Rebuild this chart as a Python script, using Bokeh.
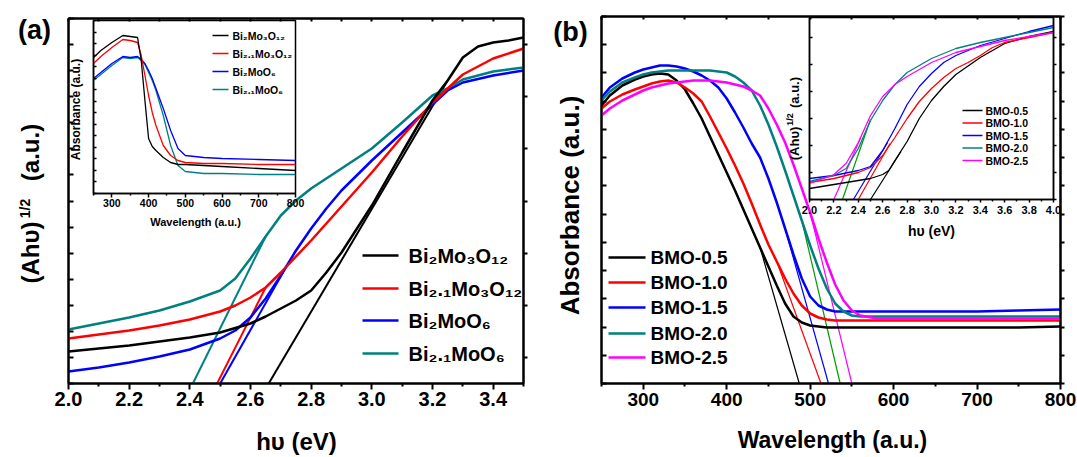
import numpy as np
from bokeh.plotting import figure
from bokeh.models import (Range1d, FixedTicker, LinearAxis, Label, GridBox,
                          PrintfTickFormatter, CustomJSTickFormatter)
from bokeh.embed import file_html
from bokeh.resources import INLINE

# ---------------- DATA ----------------
# Panel (a): Tauc plot, (Ahv)^1/2 in a.u.
hv_a_black = [2.0, 2.1, 2.2, 2.3, 2.4, 2.5, 2.6, 2.65, 2.7, 2.75, 2.8, 2.85, 2.9, 3.0, 3.1, 3.2, 3.25, 3.3, 3.35, 3.4, 3.45, 3.5]
tauc_a_black = [3.2, 3.5, 3.8, 4.2, 4.6, 5.1, 6.0, 6.7, 7.5, 8.3, 9.3, 11.1, 13.1, 17.8, 23.1, 28.3, 30.3, 32.6, 33.7, 34.1, 34.3, 34.6]
hv_a_red = [2.0, 2.1, 2.2, 2.3, 2.4, 2.5, 2.55, 2.6, 2.65, 2.7, 2.8, 2.9, 3.0, 3.1, 3.2, 3.3, 3.4, 3.5]
tauc_a_red = [4.5, 4.9, 5.3, 5.8, 6.4, 7.2, 7.8, 8.6, 9.6, 11.1, 14.3, 17.7, 21.1, 24.7, 28.1, 30.9, 32.5, 33.5]
hv_a_blue = [2.0, 2.1, 2.2, 2.3, 2.4, 2.5, 2.55, 2.6, 2.65, 2.7, 2.75, 2.8, 2.85, 2.9, 3.0, 3.1, 3.2, 3.25, 3.3, 3.4, 3.5]
tauc_a_blue = [1.2, 1.6, 2.1, 2.7, 3.4, 4.5, 5.3, 6.6, 8.5, 10.8, 13.3, 15.5, 17.5, 19.3, 22.3, 25.1, 27.9, 29.3, 30.1, 30.8, 31.3]
hv_a_teal = [2.0, 2.1, 2.2, 2.3, 2.4, 2.5, 2.55, 2.6, 2.65, 2.7, 2.75, 2.8, 2.9, 3.0, 3.1, 3.2, 3.25, 3.3, 3.4, 3.5]
tauc_a_teal = [5.4, 6.0, 6.6, 7.3, 8.2, 9.3, 10.5, 12.5, 14.7, 16.8, 18.3, 19.5, 21.5, 23.5, 26.1, 28.8, 29.5, 30.4, 31.2, 31.6]
# linear fits (x-intercept = band gap, upper end on the curve)
fit_a_black_x, fit_a_black_y = [2.66, 3.25], [0.0, 30.3]
fit_a_red_x, fit_a_red_y = [2.49, 2.65], [0.0, 9.6]
fit_a_blue_x, fit_a_blue_y = [2.50, 2.72], [0.0, 11.8]
fit_a_teal_x, fit_a_teal_y = [2.41, 2.65], [0.0, 14.7]
names_a = ["Bi\u2082Mo\u2083O\u2081\u2082", "Bi\u2082.\u2081Mo\u2083O\u2081\u2082",
           "Bi\u2082MoO\u2086", "Bi\u2082.\u2081MoO\u2086"]

# Inset of (a): absorbance spectra
wl_ia = [250, 270, 300, 330, 350, 370, 380, 390, 400, 410, 420, 440, 460, 480, 500, 550, 600, 700, 800]
abs_ia_black = [13.6, 14.3, 15.1, 15.8, 15.7, 15.6, 13.3, 9.3, 5.5, 4.7, 4.3, 3.6, 3.1, 2.9, 2.9, 2.8, 2.7, 2.5, 2.3]
abs_ia_red = [13.0, 13.7, 14.6, 15.4, 15.3, 15.1, 13.8, 11.8, 9.8, 8.1, 6.8, 4.8, 3.8, 3.3, 3.1, 3.0, 3.0, 2.9, 2.9]
abs_ia_blue = [11.5, 12.1, 13.0, 13.7, 13.6, 13.7, 13.4, 13.0, 12.3, 11.5, 10.5, 8.5, 6.3, 4.5, 3.8, 3.6, 3.5, 3.4, 3.3]
abs_ia_teal = [11.3, 11.9, 12.8, 13.6, 13.5, 13.6, 13.3, 12.9, 12.1, 11.3, 10.3, 7.8, 4.8, 2.8, 2.2, 2.0, 2.0, 1.9, 1.9]
ticks_ia_x = [300, 400, 500, 600, 700, 800]

# Panel (b): absorbance spectra
wl_b = [250, 260, 275, 290, 300, 310, 320, 330, 340, 350, 360, 370, 380, 390, 400, 410, 420, 430, 440, 450,
        460, 470, 480, 490, 500, 510, 520, 530, 540, 550, 560, 580, 600, 650, 700, 750, 800]
abs_b_05 = [27.8, 28.8, 29.8, 30.4, 30.7, 30.9, 31.0, 30.9, 30.3, 29.4, 28.0, 26.5, 24.7, 22.9, 21.1, 19.3, 17.4, 15.5, 13.6, 11.7,
            9.8, 8.0, 6.7, 6.1, 5.8, 5.7, 5.6, 5.6, 5.6, 5.6, 5.6, 5.6, 5.6, 5.6, 5.6, 5.6, 5.7]
abs_b_10 = [27.5, 28.2, 28.9, 29.4, 29.7, 30.0, 30.2, 30.3, 30.1, 29.6, 29.0, 28.2, 26.7, 25.1, 23.5, 21.8, 20.0, 18.0, 15.9, 13.9,
            12.2, 10.5, 9.0, 7.8, 7.0, 6.6, 6.4, 6.3, 6.3, 6.3, 6.3, 6.3, 6.3, 6.3, 6.3, 6.3, 6.3]
abs_b_15 = [28.6, 29.6, 30.5, 31.1, 31.4, 31.6, 31.8, 31.8, 31.7, 31.5, 31.2, 30.8, 30.3, 29.6, 28.5, 27.1, 25.6, 24.0, 22.6, 20.5,
            18.1, 15.5, 12.9, 10.5, 8.7, 7.8, 7.4, 7.2, 7.2, 7.2, 7.2, 7.2, 7.2, 7.2, 7.2, 7.3, 7.4]
abs_b_20 = [28.3, 29.2, 30.1, 30.6, 30.9, 31.1, 31.2, 31.3, 31.3, 31.3, 31.3, 31.3, 31.3, 31.2, 31.1, 30.7, 30.1, 29.3, 27.8, 25.9,
            23.7, 21.3, 18.8, 16.3, 13.8, 11.5, 9.5, 8.0, 7.2, 6.8, 6.7, 6.7, 6.7, 6.7, 6.7, 6.7, 6.7]
abs_b_25 = [26.8, 27.5, 28.3, 28.9, 29.3, 29.6, 29.8, 30.0, 30.1, 30.2, 30.3, 30.3, 30.3, 30.2, 30.1, 29.9, 29.7, 29.3, 28.8, 27.5,
            25.9, 24.1, 21.9, 19.5, 17.1, 14.5, 12.1, 9.9, 8.3, 7.3, 6.8, 6.5, 6.5, 6.5, 6.5, 6.5, 6.5]
fit_b_x = [[440, 487], [460, 513], [470, 522], [490, 536], [500, 550]]
fit_b_y = [[13.6, 0.0], [12.2, 0.0], [15.5, 0.0], [16.3, 0.0], [17.1, 0.0]]
names_b = ["BMO-0.5", "BMO-1.0", "BMO-1.5", "BMO-2.0", "BMO-2.5"]
ticks_b_x = [300, 400, 500, 600, 700, 800]

# Inset of (b): Tauc plots
hv_ib_05 = [2.0, 2.5, 2.6, 2.65, 2.7, 2.8, 2.9, 3.0, 3.1, 3.2, 3.4, 3.6, 3.8, 4.0]
tauc_ib_05 = [1.1, 2.1, 2.5, 2.9, 3.9, 5.8, 8.1, 9.9, 11.3, 12.5, 14.2, 15.6, 16.3, 16.8]
hv_ib_10 = [2.0, 2.2, 2.4, 2.5, 2.6, 2.7, 2.8, 2.9, 3.0, 3.1, 3.2, 3.3, 3.4, 3.5, 3.6, 3.8, 4.0]
tauc_ib_10 = [1.7, 2.1, 2.7, 3.2, 4.4, 6.2, 8.1, 9.8, 11.1, 12.2, 13.1, 13.7, 14.4, 15.2, 15.7, 16.2, 16.7]
hv_ib_15 = [2.0, 2.2, 2.4, 2.5, 2.6, 2.7, 2.8, 2.9, 3.0, 3.1, 3.2, 3.4, 3.6, 3.8, 4.0]
tauc_ib_15 = [2.1, 2.4, 2.9, 3.3, 4.9, 7.1, 9.5, 11.3, 12.6, 13.7, 14.4, 15.4, 16.1, 16.8, 17.4]
hv_ib_20 = [2.0, 2.2, 2.3, 2.4, 2.5, 2.6, 2.7, 2.8, 3.0, 3.2, 3.4, 3.6, 3.8, 4.0]
tauc_ib_20 = [1.8, 2.4, 3.1, 5.1, 7.9, 9.9, 11.5, 12.7, 14.1, 15.1, 15.7, 16.2, 16.7, 17.2]
hv_ib_25 = [2.0, 2.2, 2.3, 2.4, 2.5, 2.6, 2.7, 2.8, 3.0, 3.2, 3.4, 3.6, 3.8, 4.0]
tauc_ib_25 = [1.6, 2.5, 3.6, 5.7, 8.4, 10.3, 11.5, 12.3, 13.7, 14.7, 15.3, 15.9, 16.3, 16.7]
fit_ib_x = [[2.50, 2.75], [2.40, 2.66], [2.36, 2.64], [2.27, 2.50], [2.20, 2.42]]
fit_ib_y = [[0.0, 4.8], [0.0, 5.6], [0.0, 5.7], [0.0, 8.0], [0.0, 6.2]]

# ---------------- STYLE / LAYOUT ----------------
BLACK, RED, BLUE, TEAL, MAGENTA, GREEN = "#000000", "#ff0000", "#0000ff", "#008080", "#ff00ff", "#009a00"
W, H, OFF = 1077, 457, 0      # bokeh's standalone page has no body margin
FONT = "Liberation Sans"


class Frame:
    def __init__(self, L, R, T, B, xr, yr):
        self.L, self.R, self.T, self.B, self.xr, self.yr = L, R, T, B, xr, yr

    def X(self, px):
        return self.xr[0] + (px - self.L) / (self.R - self.L) * (self.xr[1] - self.xr[0])

    def Y(self, py):
        return self.yr[0] + (self.B - py) / (self.B - self.T) * (self.yr[1] - self.yr[0])


def make_fig(fr, outline_w, opaque):
    p = figure(width=W, height=H, x_range=Range1d(*fr.xr), y_range=Range1d(*fr.yr),
               output_backend="svg", toolbar_location=None,
               min_border_left=fr.L - OFF, min_border_right=W - (fr.R - OFF),
               min_border_top=fr.T - OFF, min_border_bottom=H - (fr.B - OFF))
    p.frame_align = False
    p.xgrid.visible = False
    p.ygrid.visible = False
    p.outline_line_color = "black"
    p.outline_line_width = outline_w
    if opaque:
        p.background_fill_color = "white"
        p.border_fill_color = "white"
    else:
        p.background_fill_alpha = 0
        p.border_fill_alpha = 0
    return p


def style(ax, lw, t_in, t_out, m_in=0, m_out=0, size=None, standoff=2, fmt=None):
    ax.axis_line_width = lw
    ax.axis_line_color = "black"
    ax.major_tick_line_width = lw
    ax.minor_tick_line_width = lw
    ax.major_tick_in, ax.major_tick_out = t_in, t_out
    ax.minor_tick_in, ax.minor_tick_out = m_in, m_out
    if size is None:
        ax.formatter = CustomJSTickFormatter(code="return ''")
        ax.major_label_text_font_size = "1px"
    else:
        if fmt:
            ax.formatter = PrintfTickFormatter(format=fmt)
        ax.major_label_text_font = FONT
        ax.major_label_text_font_style = "bold"
        ax.major_label_text_font_size = f"{size}px"
        ax.major_label_text_color = "black"
        ax.major_label_standoff = standoff


def extra_axis(p, side, ticks, lw, t_in, t_out):
    ax = LinearAxis(ticker=FixedTicker(ticks=list(ticks), minor_ticks=[]))
    style(ax, lw, t_in, t_out)
    p.add_layout(ax, side)


def lab(p, fr, px, py, text, size, align="left", angle=0.0):
    # (px, py) = visual centre line of the text (page pixels)
    p.add_layout(Label(x=fr.X(px), y=fr.Y(py), text=text, text_font=FONT, text_font_style="bold",
                       text_font_size=f"{size}px", text_align=align, text_baseline="middle",
                       angle=angle, text_color="black"))


def legend(p, fr, colors, names, x0, x1, xt, rows, size, lw):
    for c, n, ry in zip(colors, names, rows):
        p.line([fr.X(x0), fr.X(x1)], [fr.Y(ry), fr.Y(ry)], line_color=c, line_width=lw)
        lab(p, fr, xt, ry, n, size)


# ---- frames (page pixel geometry) ----
fa = Frame(68, 523, 18, 383, (2.0, 3.5), (0, 36.5))
fb = Frame(601, 1060, 16, 383, (250, 800), (0, 36.7))
fia = Frame(93, 295, 20, 193, (250, 800), (0, 17.3))
fib = Frame(809, 1053, 17, 199, (2.0, 4.0), (0, 18.2))
# whole-canvas overlay for titles that lie outside the plot frames
ftxt = Frame(OFF, OFF + W, OFF, OFF + H, (OFF, OFF + W), (OFF + H, OFF))

# ================= Panel (a) =================
pa = make_fig(fa, 2, True)
ax = pa.xaxis[0]
ax.ticker = FixedTicker(ticks=[2.0, 2.2, 2.4, 2.6, 2.8, 3.0, 3.2, 3.4],
                        minor_ticks=[2.1, 2.3, 2.5, 2.7, 2.9, 3.1, 3.3, 3.5])
style(ax, 2, 0, 6, 0, 3, size=20, standoff=2, fmt="%.1f")
ay = pa.yaxis[0]
ay.ticker = FixedTicker(ticks=list(np.arange(0, 36.51, 2.607)), minor_ticks=[])
style(ay, 2, 5, 0)
extra_axis(pa, "above", np.arange(2.0, 3.51, 0.1), 2, 3, 0)
extra_axis(pa, "right", np.arange(2.607, 36.51, 2 * 2.607), 2, 0, 4)

for xs, ys, c in [(fit_a_teal_x, fit_a_teal_y, TEAL), (fit_a_blue_x, fit_a_blue_y, BLUE),
                  (fit_a_red_x, fit_a_red_y, RED), (fit_a_black_x, fit_a_black_y, BLACK)]:
    pa.line(xs, ys, line_color=c, line_width=2)
for xs, ys, c in [(hv_a_teal, tauc_a_teal, TEAL), (hv_a_blue, tauc_a_blue, BLUE),
                  (hv_a_red, tauc_a_red, RED), (hv_a_black, tauc_a_black, BLACK)]:
    pa.line(xs, ys, line_color=c, line_width=2.5)
legend(pa, fa, [BLACK, RED, BLUE, TEAL], names_a, 362, 398, 408, [255, 288, 320, 353], 20, 2.5)

# ================= Panel (b) =================
pb = make_fig(fb, 2, False)
ax = pb.xaxis[0]
ax.ticker = FixedTicker(ticks=ticks_b_x, minor_ticks=[250, 350, 450, 550, 650, 750])
style(ax, 2, 0, 6, 0, 3, size=19, standoff=3)
ay = pb.yaxis[0]
ay.ticker = FixedTicker(ticks=list(np.arange(0, 36.71, 2.823)), minor_ticks=[])
style(ay, 2, 5, 0)
extra_axis(pb, "above", np.arange(250, 801, 50), 2, 3, 0)
extra_axis(pb, "right", np.arange(0, 36.71, 2.823), 2, 0, 4)

colors_b = [BLACK, RED, BLUE, TEAL, MAGENTA]
fit_colors_b = [BLACK, RED, BLUE, GREEN, MAGENTA]
for xs, ys, c in zip(fit_b_x, fit_b_y, fit_colors_b):
    pb.line(xs, ys, line_color=c, line_width=1.2)
for ys, c in zip([abs_b_05, abs_b_10, abs_b_15, abs_b_20, abs_b_25], colors_b):
    pb.line(wl_b, ys, line_color=c, line_width=2.5)
legend(pb, fb, colors_b, names_b, 608, 645, 650, [257, 282, 307, 333, 357], 19, 2.5)

# ================= Inset of (a) =================
pia = make_fig(fia, 1.5, False)
ax = pia.xaxis[0]
ax.ticker = FixedTicker(ticks=ticks_ia_x, minor_ticks=[250, 350, 450, 550, 650, 750])
style(ax, 1.5, 0, 4, 0, 2, size=10.5, standoff=1)
ay = pia.yaxis[0]
ay.ticker = FixedTicker(ticks=list(np.arange(0, 17.31, 1.153)), minor_ticks=[])
style(ay, 1.5, 3, 0)
for ys, c in [(abs_ia_teal, TEAL), (abs_ia_blue, BLUE), (abs_ia_red, RED), (abs_ia_black, BLACK)]:
    pia.line(wl_ia, ys, line_color=c, line_width=1.3)
legend(pia, fia, [BLACK, RED, BLUE, TEAL], names_a, 212, 228, 232, [35, 53, 71, 89], 10.5, 1.3)

# ================= Inset of (b) =================
pib = make_fig(fib, 1.5, False)
ax = pib.xaxis[0]
ax.ticker = FixedTicker(ticks=[round(2.0 + 0.2 * i, 1) for i in range(11)],
                        minor_ticks=[round(2.1 + 0.2 * i, 1) for i in range(10)])
style(ax, 1.5, 0, 3, 0, 2, size=11, standoff=3, fmt="%.1f")
ay = pib.yaxis[0]
ay.ticker = FixedTicker(ticks=list(np.arange(0, 18.21, 2.7)), minor_ticks=[])
style(ay, 1.5, 3, 0)
extra_axis(pib, "right", np.arange(0, 18.21, 2.7), 1.5, 0, 3)
for xs, ys, c in zip(fit_ib_x, fit_ib_y, fit_colors_b):
    pib.line(xs, ys, line_color=c, line_width=1.2)
for xs, ys, c in zip([hv_ib_05, hv_ib_10, hv_ib_15, hv_ib_20, hv_ib_25],
                     [tauc_ib_05, tauc_ib_10, tauc_ib_15, tauc_ib_20, tauc_ib_25], colors_b):
    pib.line(xs, ys, line_color=c, line_width=1.3)
legend(pib, fib, colors_b, names_b, 962, 982, 985, [110, 122.5, 135, 147.5, 160], 10.5, 1.3)

# ================= Title overlay =================
pt = figure(width=W, height=H, x_range=Range1d(*ftxt.xr), y_range=Range1d(*ftxt.yr),
            output_backend="svg", toolbar_location=None, x_axis_location=None, y_axis_location=None,
            min_border=0, min_border_left=0, min_border_right=0, min_border_top=0, min_border_bottom=0)
pt.frame_align = False
pt.xgrid.visible = False
pt.ygrid.visible = False
pt.outline_line_color = None
pt.background_fill_alpha = 0
pt.border_fill_alpha = 0
R90 = np.pi / 2
for px, py, text, size, align, ang in [
        (34, 29, "(a)", 27, "center", 0.0),
        (570, 31, "(b)", 27, "center", 0.0),
        (296, 441, "h\u03c5 (eV)", 24, "center", 0.0),
        (30, 252, "(Ah\u03c5)", 24, "center", R90),
        (24, 208, "1/2", 14, "center", R90),
        (30, 152, "(a.u.)", 24, "center", R90),
        (832, 439, "Wavelength (a.u.)", 23, "center", 0.0),
        (569, 205, "Absorbance (a.u.)", 26, "center", R90),
        (195, 221, "Wavelength (a.u.)", 11, "center", 0.0),
        (75, 109, "Absorbance (a.u.)", 12, "center", R90),
        (931, 230, "h\u03c5 (eV)", 14, "center", 0.0),
        (794, 143, "(Ah\u03c5)", 13, "center", R90),
        (789, 119, "1/2", 9, "center", R90),
        (794, 92, "(a.u.)", 13, "center", R90)]:
    lab(pt, ftxt, px, py, text, size, align, ang)

grid = GridBox(children=[(pa, 0, 0), (pb, 0, 0), (pia, 0, 0), (pib, 0, 0), (pt, 0, 0)], spacing=0)
open("out.html", "w").write(file_html(grid, INLINE, title="Absorbance and Tauc plots"))
